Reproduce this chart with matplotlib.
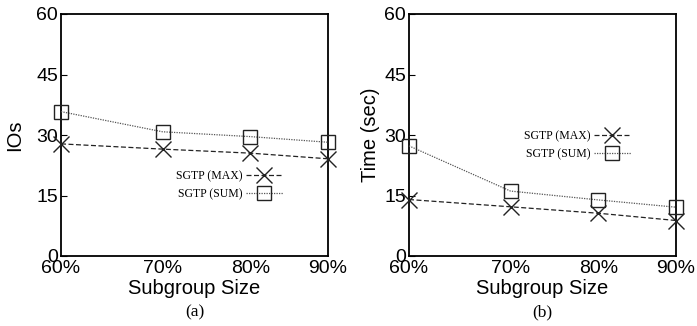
import matplotlib
matplotlib.use("Agg")
import matplotlib.pyplot as plt
from matplotlib.ticker import NullLocator

categories = ["60%", "70%", "80%", "90%"]
subgroup = [60, 70, 80, 90]
ios_max = [27.8, 26.5, 25.5, 24.1]
ios_sum = [35.8, 30.8, 29.6, 28.2]
time_max = [14.0, 12.2, 10.6, 8.8]
time_sum = [27.3, 16.1, 13.9, 12.1]
yticks = [0, 15, 30, 45, 60]

fig = plt.figure(figsize=(6.97, 3.26), dpi=100)
W, H = 697, 326
panels = [
    dict(rect=(61, 14, 328, 256), ylabel="IOs", mx=ios_max, sm=ios_sum,
         cap="(a)", leg=(176, 170), ylpad=8.5),
    dict(rect=(409, 14, 676, 256), ylabel="Time (sec)", mx=time_max, sm=time_sum,
         cap="(b)", leg=(524, 130), ylpad=3),
]
sans = "Liberation Sans"
serif = "Liberation Serif"
for p in panels:
    x0, y0, x1, y1 = p["rect"]
    ax = fig.add_axes([x0 / W, 1 - y1 / H, (x1 - x0) / W, (y1 - y0) / H])
    ax.set_xscale("log")
    l1, = ax.plot(subgroup, p["mx"], color="#222222", lw=0.9, ls=(0, (4, 2)),
                  marker="x", ms=12, mew=1.0, mec="#222222", clip_on=False, zorder=3)
    l2, = ax.plot(subgroup, p["sm"], color="#555555", lw=0.9, ls=(0, (1, 1)),
                  marker="s", ms=9.5, mfc="none", mew=1.0, mec="#222222",
                  clip_on=False, zorder=3)
    ax.set_xlim(60, 90)
    ax.set_ylim(0, 60)
    ax.xaxis.set_minor_locator(NullLocator())
    ax.set_xticks(subgroup)
    ax.set_xticklabels(categories, fontfamily=sans, fontsize=14)
    ax.set_yticks(yticks)
    ax.set_yticklabels([str(v) for v in yticks], fontfamily=sans, fontsize=14)
    ax.tick_params(axis="y", direction="in", length=4, width=0.8, pad=2)
    ax.tick_params(axis="x", direction="in", length=0, pad=3)
    for s in ax.spines.values():
        s.set_linewidth(1.3)
    ax.set_ylabel(p["ylabel"], fontfamily=sans, fontsize=14.5, labelpad=p["ylpad"])
    ax.set_xlabel("Subgroup Size", fontfamily=sans, fontsize=14.5, labelpad=1)
    lx, ly = p["leg"]
    leg = ax.legend([l1, l2], ["SGTP (MAX)", "SGTP (SUM)"], loc="upper left",
                    bbox_to_anchor=((lx - x0) / (x1 - x0), (y1 - ly) / (y1 - y0)),
                    frameon=False, markerfirst=False,
                    prop={"family": serif, "size": 8.5}, handlelength=3.1,
                    handletextpad=0.3, labelspacing=0.5, borderpad=0,
                    borderaxespad=0)
    fig.text((x0 + x1) / 2 / W, 1 - 312 / H, p["cap"], ha="center", va="center",
             fontfamily=serif, fontsize=12.5)

fig.savefig("out.png", dpi=100)
